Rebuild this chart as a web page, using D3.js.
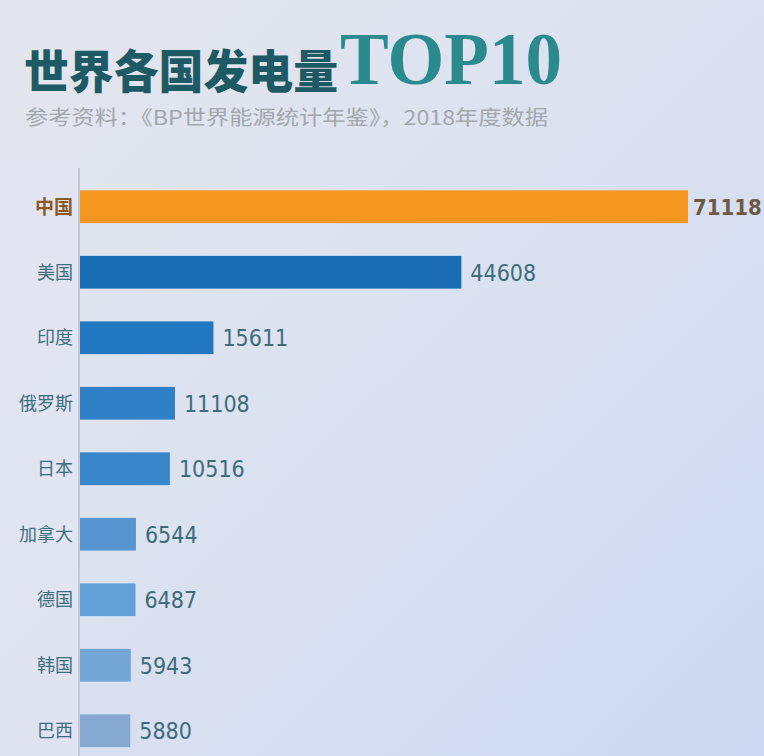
<!DOCTYPE html>
<html>
<head>
<meta charset="utf-8">
<script src="https://cdn.jsdelivr.net/npm/d3@7/dist/d3.min.js"></script>
<style>
  html, body { margin: 0; padding: 0; overflow: hidden; }
  svg { display: block; }
</style>
</head>
<body>
<svg id="chart" width="764" height="756"></svg>
<script>
// Electricity generation, 2018 (BP Statistical Review), 100 GWh units
const countries = ["中国", "美国", "印度", "俄罗斯", "日本", "加拿大", "德国", "韩国", "巴西"];
const generation = [71118, 44608, 15611, 11108, 10516, 6544, 6487, 5943, 5880];
const barColors = ["#f5961f", "#1a6db5", "#2178c0", "#2f80c6", "#3a86ca", "#5796d0", "#63a0d8", "#74a6d6", "#85a9d1"];

const titleMain = "世界各国发电量";
const titleTop = "TOP10";
const subtitle = "参考资料：《BP世界能源统计年鉴》，2018年度数据";

const W = 764, H = 756;
const svg = d3.select("#chart");
const defs = svg.append("defs");

// background wash
const bg = defs.append("linearGradient").attr("id", "bg")
  .attr("x1", "0").attr("y1", "0").attr("x2", "1").attr("y2", "1");
bg.append("stop").attr("offset", "0").attr("stop-color", "#e4e6ee");
bg.append("stop").attr("offset", "0.45").attr("stop-color", "#dbe2f0");
bg.append("stop").attr("offset", "1").attr("stop-color", "#cdd8f2");
svg.append("rect").attr("width", W).attr("height", H).attr("fill", "url(#bg)");

// lighter strip behind the category labels
svg.append("rect").attr("x", 0).attr("y", 160).attr("width", 79).attr("height", H - 160)
  .attr("fill", "#e3e6f2").attr("opacity", 0.7);

// titles
svg.append("text").attr("x", 24).attr("y", 88)
  .attr("font-family", "'Noto Sans CJK SC', sans-serif")
  .attr("font-weight", 900).attr("font-size", 46)
  .attr("fill", "#1d5a64")
  .attr("textLength", 314).attr("lengthAdjust", "spacingAndGlyphs")
  .text(titleMain);
svg.append("text").attr("x", 340).attr("y", 84)
  .attr("font-family", "'Liberation Serif', 'DejaVu Serif', serif")
  .attr("font-weight", 700).attr("font-size", 74)
  .attr("fill", "#2a8a8d")
  .attr("textLength", 222).attr("lengthAdjust", "spacingAndGlyphs")
  .text(titleTop);

svg.append("text").attr("x", 25).attr("y", 125)
  .attr("font-family", "'Noto Sans CJK SC', sans-serif")
  .attr("font-size", 20).attr("fill", "#a3a7ae")
  .attr("textLength", 523).attr("lengthAdjust", "spacingAndGlyphs")
  .text(subtitle);

// scales
const x0 = 80;
const x = d3.scaleLinear().domain([0, 71118]).range([x0, 688]);
const y = d3.scaleBand().domain(countries).range([174, 763.5])
  .paddingInner(0.5).paddingOuter(0.25);

// vertical baseline
svg.append("line").attr("x1", x0 - 1).attr("x2", x0 - 1).attr("y1", 168).attr("y2", H)
  .attr("stroke", "#c4c8d3").attr("stroke-width", 2);

const rows = countries.map((c, i) => ({ c, v: generation[i], color: barColors[i], i }));

svg.append("g").selectAll("rect").data(rows).join("rect")
  .attr("x", x0)
  .attr("y", d => y(d.c))
  .attr("width", d => x(d.v) - x0)
  .attr("height", y.bandwidth())
  .attr("fill", d => d.color);

// category labels
svg.append("g").selectAll("text").data(rows).join("text")
  .attr("x", 73)
  .attr("y", d => y(d.c) + y.bandwidth() / 2)
  .attr("dy", "0.36em")
  .attr("text-anchor", "end")
  .attr("font-family", "'Noto Sans CJK SC', sans-serif")
  .attr("font-size", d => d.i === 0 ? 19 : 18)
  .attr("font-weight", d => d.i === 0 ? 700 : 400)
  .attr("fill", d => d.i === 0 ? "#8a5a26" : "#3f6d7b")
  .text(d => d.c);

// value labels
svg.append("g").selectAll("text").data(rows).join("text")
  .attr("x", d => x(d.v) + (d.i === 0 ? 5 : 9))
  .attr("y", d => y(d.c) + y.bandwidth() / 2)
  .attr("dy", "0.36em")
  .attr("font-family", "'DejaVu Sans Condensed', 'Liberation Sans', sans-serif")
  .attr("font-size", d => d.i === 0 ? 22 : 23)
  .attr("font-weight", d => d.i === 0 ? 700 : 400)
  .attr("fill", d => d.i === 0 ? "#6c5a44" : "#3e6c78")
  .text(d => d.v);
</script>
</body>
</html>
